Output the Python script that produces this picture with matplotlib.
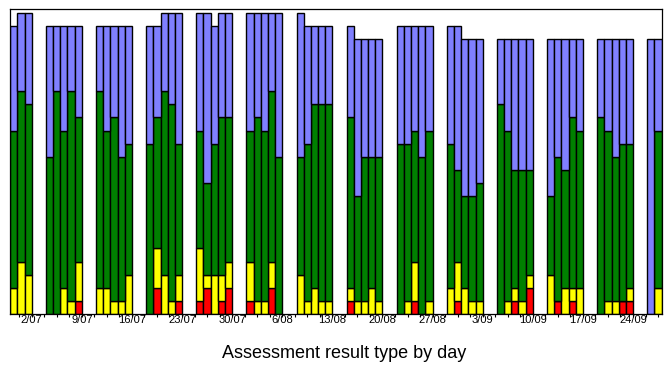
import numpy as np
import matplotlib
matplotlib.use("Agg")
import matplotlib.pyplot as plt

plt.rcParams['font.family'] = ['Liberation Sans', 'DejaVu Sans']

# day index (0 = first day shown), counts per result type
days = [0, 1, 2,
        5, 6, 7, 8, 9,
        12, 13, 14, 15, 16,
        19, 20, 21, 22, 23,
        26, 27, 28, 29, 30,
        33, 34, 35, 36, 37,
        40, 41, 42, 43, 44,
        47, 48, 49, 50, 51,
        54, 55, 56, 57, 58,
        61, 62, 63, 64, 65,
        68, 69, 70, 71, 72,
        75, 76, 77, 78, 79,
        82, 83, 84, 85, 86,
        89, 90]
red = [0, 0, 0,
       0, 0, 0, 0, 1,
       0, 0, 0, 0, 0,
       0, 2, 0, 0, 1,
       1, 2, 0, 1, 2,
       1, 0, 0, 2, 0,
       0, 0, 0, 0, 0,
       1, 0, 0, 0, 0,
       0, 0, 1, 0, 0,
       0, 1, 0, 0, 0,
       0, 0, 1, 0, 2,
       0, 1, 0, 1, 0,
       0, 0, 0, 1, 1,
       0, 0]
yellow = [2, 4, 3,
          0, 0, 2, 1, 3,
          2, 2, 1, 1, 3,
          0, 3, 3, 1, 2,
          4, 1, 3, 2, 2,
          3, 1, 1, 2, 0,
          3, 1, 2, 1, 1,
          1, 1, 1, 2, 1,
          0, 1, 3, 0, 1,
          2, 3, 2, 1, 1,
          0, 1, 1, 1, 1,
          3, 0, 2, 1, 2,
          0, 1, 1, 0, 1,
          0, 2]
green = [12, 13, 13,
         12, 17, 12, 16, 11,
         15, 12, 14, 11, 10,
         13, 10, 14, 15, 10,
         9, 7, 10, 12, 11,
         10, 14, 13, 13, 12,
         9, 12, 14, 15, 15,
         13, 8, 11, 10, 11,
         13, 12, 10, 12, 13,
         11, 7, 7, 8, 9,
         16, 13, 9, 10, 8,
         6, 11, 9, 13, 12,
         15, 13, 11, 12, 11,
         0, 12]
blue = [8, 6, 7,
        10, 5, 8, 5, 7,
        5, 8, 7, 10, 9,
        9, 7, 6, 7, 10,
        9, 13, 9, 8, 8,
        9, 8, 9, 6, 11,
        11, 9, 6, 6, 6,
        7, 12, 9, 9, 9,
        9, 9, 8, 10, 8,
        9, 11, 12, 12, 11,
        5, 7, 10, 10, 10,
        12, 9, 10, 6, 7,
        6, 7, 9, 8, 8,
        21, 7]

tick_days = [3, 10, 17, 24, 31, 38, 45, 52, 59, 66, 73, 80, 87]
tick_labels = ['2/07', '9/07', '16/07', '23/07', '30/07', '6/08', '13/08',
               '20/08', '27/08', '3/09', '10/09', '17/09', '24/09']

fig = plt.figure(figsize=(6.72, 3.72), dpi=100)
ax = fig.add_axes([0.0152, 0.156, 0.9694, 0.819])

x = np.array(days)
r = np.array(red)
y = np.array(yellow)
g = np.array(green)
b = np.array(blue)

kw = dict(width=1, align='edge', edgecolor='black', linewidth=1.0)
ax.bar(x, r, color='#FF0000', **kw)
ax.bar(x, y, bottom=r, color='#FFFF00', **kw)
ax.bar(x, g, bottom=r + y, color='#008000', **kw)
ax.bar(x, b, bottom=r + y + g, color='#8080FF', **kw)

ax.set_xlim(0, 91)
ax.set_ylim(0, 23.25)
ax.set_yticks([])
ax.set_xticks(tick_days)
ax.set_xticklabels(tick_labels, fontsize=8)
ax.set_xticks(np.arange(1.25, 91, 1.75), minor=True)
ax.tick_params(axis='x', which='both', length=2.5, width=0.8, pad=-1.5)
for s in ax.spines.values():
    s.set_linewidth(0.9)

fig.text(0.512, 0.049, 'Assessment result type by day', fontsize=13,
         ha='center', va='center')

fig.savefig('out.png', dpi=100)
